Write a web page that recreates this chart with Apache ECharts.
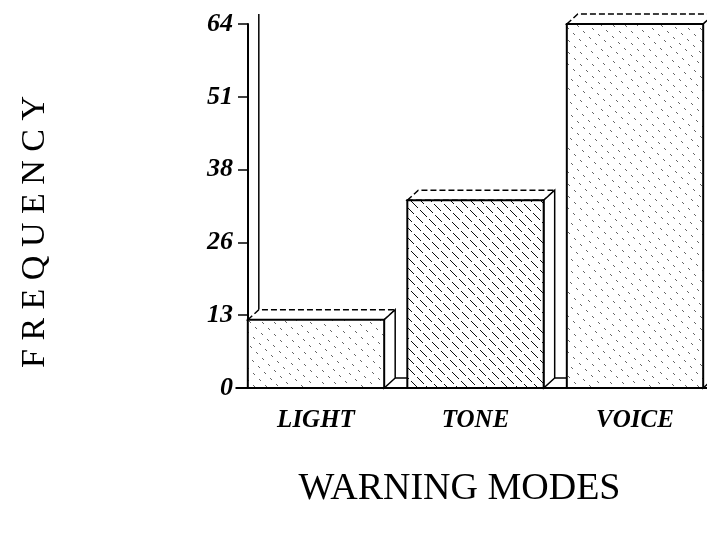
<!DOCTYPE html>
<html>
<head>
<meta charset="utf-8">
<script src="https://cdn.jsdelivr.net/npm/echarts@6/dist/echarts.min.js"></script>
<style>
  html, body { margin: 0; padding: 0; background: #fff; }
  #chart { width: 707px; height: 535px; }
</style>
</head>
<body>
<div id="chart"></div>
<script>
// data
const categories = ['LIGHT', 'TONE', 'VOICE'];
const frequency = [12, 33, 64];
const yTickLabels = ['0', '13', '26', '38', '51', '64'];

// hatch tiles: "\" lines, dashed, dash phase varies per line
function makeHatch(step, dashLen, dashOn, alpha) {
  const T = step * dashLen;
  const c = document.createElement('canvas');
  c.width = T; c.height = T;
  const ctx = c.getContext('2d');
  ctx.fillStyle = '#fff';
  ctx.fillRect(0, 0, T, T);
  ctx.fillStyle = 'rgba(0,0,0,' + alpha + ')';
  for (let i = 0; i < T; i++) {
    for (let j = 0; j < T; j++) {
      const m = ((i - j) % T + T) % T;
      if (m % step !== 0) continue;
      const k = m / step;
      const phase = (k * k * 7 + k * 3) % dashLen;
      if (((i + j + phase) % dashLen) < dashOn) ctx.fillRect(i, j, 1, 1);
    }
  }
  return c;
}
const fills = [
  makeHatch(12, 12, 4, 0.6),
  makeHatch(10, 18, 13, 0.95),
  makeHatch(12, 12, 4, 0.6)
];

const dx = 11, dy = -10; // depth of the 3d look

function renderBar(params, api) {
  const idx = api.value(0);
  const val = api.value(1);
  const base = api.coord([idx, 0]);
  const top = api.coord([idx, val]);
  const band = api.size([1, 0])[0];
  const w = band * 0.855;
  const x0 = base[0] - w / 2, x1 = base[0] + w / 2;
  const yB = base[1], yT = top[1];
  const children = [];
  if (params.dataIndex === 0) {
    const yMax = api.coord([0, 64])[1];
    children.push({
      type: 'line',
      shape: { x1: x0 + dx, y1: yMax + dy, x2: x0 + dx, y2: yT + dy },
      style: { stroke: '#000', lineWidth: 1.5 }
    });
  }
  if (params.dataIndex < categories.length - 1) {
    // floor edge behind the gap to the next bar
    children.push({
      type: 'line',
      shape: { x1: x1 + dx, y1: yB + dy, x2: x0 + band, y2: yB + dy },
      style: { stroke: '#000', lineWidth: 1.5 }
    });
  }
  children.push({
    type: 'polygon',
    shape: { points: [[x0, yT], [x0 + dx, yT + dy], [x1 + dx, yT + dy], [x1, yT]] },
    style: { fill: '#fff', stroke: '#000', lineWidth: 1.5, lineDash: [6, 3] }
  });
  children.push({
    type: 'polygon',
    shape: { points: [[x1, yT], [x1 + dx, yT + dy], [x1 + dx, yB + dy], [x1, yB]] },
    style: { fill: '#fff', stroke: '#000', lineWidth: 1.5 }
  });
  children.push({
    type: 'rect',
    shape: { x: x0, y: yT, width: w, height: yB - yT },
    style: {
      fill: { image: fills[params.dataIndex], repeat: 'repeat' },
      stroke: '#000', lineWidth: 2
    }
  });
  return { type: 'group', children: children };
}

const chart = echarts.init(document.getElementById('chart'));
chart.setOption({
  backgroundColor: '#fff',
  animation: false,
  grid: {
    left: 236.25, top: 24, right: -7.75, bottom: 147,
    outerBoundsMode: 'none', containLabel: false
  },
  xAxis: {
    type: 'category',
    data: categories,
    name: 'WARNING MODES',
    nameLocation: 'middle',
    nameGap: 82,
    nameTextStyle: {
      fontFamily: 'Liberation Serif', fontSize: 38, color: '#000',
      padding: [0, 32, 0, 0]
    },
    axisLine: { lineStyle: { color: '#000', width: 2 } },
    axisTick: { alignWithLabel: true, length: 12, lineStyle: { color: '#000', width: 1.5 } },
    axisLabel: {
      margin: 20, color: '#000', fontFamily: 'Liberation Serif',
      fontStyle: 'italic', fontWeight: 'bold', fontSize: 25
    }
  },
  yAxis: {
    type: 'value',
    min: 0, max: 64, interval: 12.8,
    offset: -11.75,
    name: 'F R E Q U E N C Y',
    nameLocation: 'middle',
    nameRotate: 90,
    nameGap: 196,
    nameTextStyle: {
      fontFamily: 'Liberation Serif', fontSize: 34, color: '#000',
      padding: [0, 52, 0, 0]
    },
    splitLine: { show: false },
    axisLine: { show: true, lineStyle: { color: '#000', width: 2 } },
    axisTick: { show: true, length: 10, lineStyle: { color: '#000', width: 1.5 } },
    axisLabel: {
      margin: 15, color: '#000', fontFamily: 'Liberation Serif',
      fontStyle: 'italic', fontWeight: 'bold', fontSize: 26,
      formatter: function (v, i) { return yTickLabels[i]; }
    }
  },
  series: [{
    type: 'custom',
    renderItem: renderBar,
    data: categories.map(function (c, i) { return [i, frequency[i]]; })
  }]
});
</script>
</body>
</html>
